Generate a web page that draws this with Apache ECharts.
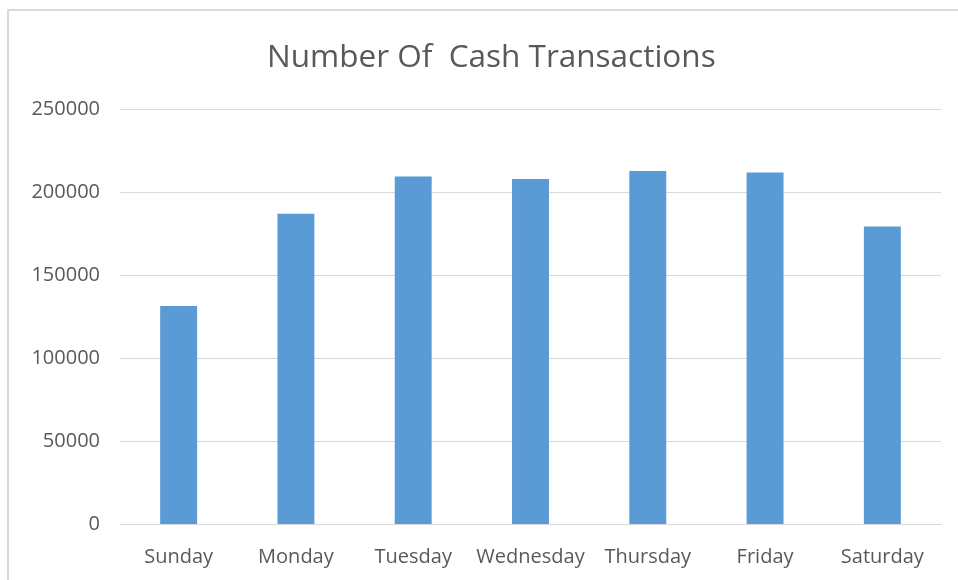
<!DOCTYPE html>
<html>
<head>
<meta charset="utf-8">
<script src="https://cdn.jsdelivr.net/npm/echarts@6/dist/echarts.min.js"></script>
<style>
html,body{margin:0;padding:0;background:#fff;}
#chart{width:958px;height:580px;}
</style>
</head>
<body>
<div id="chart"></div>
<script>
const titleText = "Number Of  Cash Transactions";
const categories = ["Sunday","Monday","Tuesday","Wednesday","Thursday","Friday","Saturday"];
const transactions = [131400, 186900, 209300, 207800, 212600, 211800, 179200];
const yMin = 0, yMax = 250000, yInterval = 50000;

const chart = echarts.init(document.getElementById('chart'));
chart.setOption({
  animation: false,
  backgroundColor: '#ffffff',
  graphic: [{
    type: 'rect',
    shape: {x: 8, y: 10, width: 970, height: 590},
    style: {fill: 'none', stroke: '#d9d9d9', lineWidth: 2}
  }],
  title: {
    text: titleText,
    left: 262,
    top: 37,
    textStyle: {fontFamily: 'Open Sans', fontSize: 31.5, fontWeight: 'normal', color: '#595959'}
  },
  grid: {left: 120, right: 17, top: 109, bottom: 56, containLabel: false},
  xAxis: {
    type: 'category',
    data: categories,
    axisLine: {lineStyle: {color: '#d9d9d9', width: 1}},
    axisTick: {show: false},
    axisLabel: {fontFamily: 'Open Sans', fontSize: 20, color: '#595959', margin: 23, interval: 0}
  },
  yAxis: {
    type: 'value',
    min: yMin, max: yMax, interval: yInterval,
    axisLine: {show: false},
    axisTick: {show: false},
    splitLine: {lineStyle: {color: '#d9d9d9', width: 1}},
    axisLabel: {fontFamily: 'Open Sans', fontSize: 20, color: '#595959', margin: 20,
      formatter: function (v) { return String(v); }}
  },
  series: [{
    type: 'bar',
    data: transactions,
    barWidth: '31.5%',
    itemStyle: {color: '#5b9bd5'}
  }]
});
</script>
</body>
</html>
